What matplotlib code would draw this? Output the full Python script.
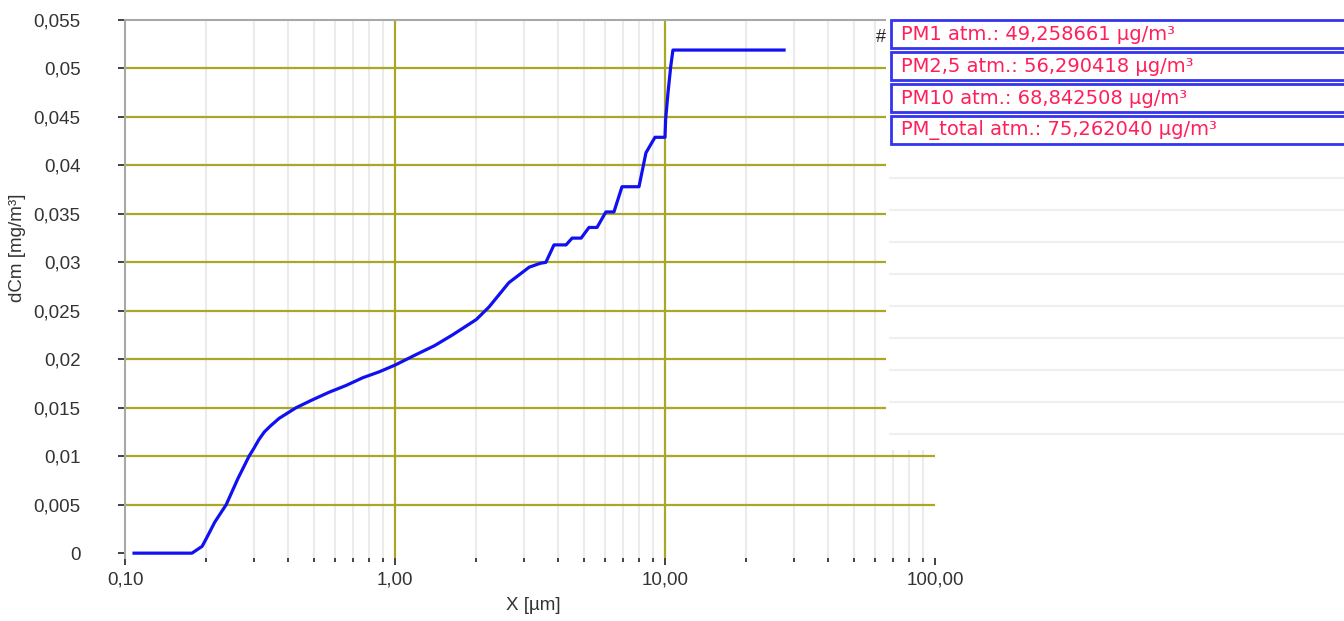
import numpy as np
import matplotlib
matplotlib.use("Agg")
import matplotlib.pyplot as plt
from matplotlib.patches import Rectangle

# particle size [um] and cumulative mass concentration dCm [mg/m3]
size_um = [0.108, 0.177, 0.193, 0.200, 0.215, 0.237, 0.262, 0.288, 0.300, 0.313,
           0.328, 0.345, 0.372, 0.43, 0.493, 0.57, 0.659, 0.76, 0.873, 1.0,
           1.2, 1.4, 1.63, 2.0, 2.23, 2.64, 3.14, 3.45, 3.62, 3.88,
           4.3, 4.53, 4.89, 5.23, 5.6, 6.04, 6.47, 6.93, 8.01, 8.5,
           9.18, 10.0, 10.05, 10.26, 10.5, 10.7, 27.6]
dcm = [0.0, 0.0, 0.0007, 0.0015, 0.0032, 0.005, 0.0077, 0.010, 0.0108, 0.0117,
       0.0125, 0.0131, 0.0139, 0.015, 0.0158, 0.0166, 0.0173, 0.0181, 0.0187, 0.0194,
       0.0205, 0.0214, 0.0225, 0.0241, 0.0254, 0.0279, 0.0295, 0.0299, 0.0300, 0.0318,
       0.0318, 0.0325, 0.0325, 0.0336, 0.0336, 0.0352, 0.0352, 0.0378, 0.0378, 0.0413,
       0.0429, 0.0429, 0.0447, 0.0475, 0.0502, 0.0519, 0.0519]

y_ticks = [0, 0.005, 0.01, 0.015, 0.02, 0.025, 0.03, 0.035, 0.04, 0.045, 0.05, 0.055]
y_labels = ["0", "0,005", "0,01", "0,015", "0,02", "0,025", "0,03", "0,035",
            "0,04", "0,045", "0,05", "0,055"]
x_ticks = [0.1, 1, 10, 100]
x_labels = ["0,10", "1,00", "10,00", "100,00"]

pm_names = ["PM1 atm.", "PM2,5 atm.", "PM10 atm.", "PM_total atm."]
pm_values = ["49,258661", "56,290418", "68,842508", "75,262040"]

W, H = 1344, 621
OLIVE = "#aaa626"
MINOR = "#ebebeb"
TXT = "#333333"
plt.rcParams["font.family"] = ["Liberation Sans", "DejaVu Sans"]

fig = plt.figure(figsize=(W / 100, H / 100), dpi=100)
# axes in pixel terms: x 125..935, y 20..558 (from top)
ax = fig.add_axes([125 / W, (H - 558) / H, 810 / W, 538 / H])
ax.set_xscale("log")
ax.set_xlim(0.1, 100)
ax.set_ylim(-0.0005, 0.055)

# grid
minor_x = [m * d for d in (0.1, 1, 10) for m in range(2, 10)]
for v in minor_x:
    ax.axvline(v, color=MINOR, lw=1.5, zorder=1)
for v in x_ticks[1:-1]:
    ax.axvline(v, color=OLIVE, lw=1.6, zorder=2)
for v in y_ticks[1:-1]:
    ax.axhline(v, color=OLIVE, lw=1.6, zorder=2)

ax.plot(size_um, dcm, color="#1010f0", lw=2.3, zorder=3)

for s in ["bottom", "right"]:
    ax.spines[s].set_visible(False)
for s in ["left", "top"]:
    ax.spines[s].set_color("#a8a8a8")
    ax.spines[s].set_linewidth(1.5)

ax.set_yticks(y_ticks)
ax.set_yticklabels(y_labels)
ax.set_xticks(x_ticks)
ax.set_xticklabels(x_labels)
ax.set_xticks(minor_x, minor=True)
ax.tick_params(axis="y", length=5, width=1.2, color="#222222", pad=27,
               labelsize=13.5, labelcolor=TXT)
ax.tick_params(axis="x", which="major", length=5, width=1.2, color="#222222",
               pad=5, labelsize=13.5, labelcolor=TXT)
ax.tick_params(axis="x", which="minor", length=3, width=1.2, color="#222222")
for lbl in ax.get_yticklabels():
    lbl.set_horizontalalignment("right")

fig.text(533 / W, 1 - 605 / H, "X [µm]", ha="center", va="center",
         fontsize=13.5, color=TXT)
fig.text(18 / W, 1 - 248 / H, "dCm [mg/m³]", ha="center", va="center",
         rotation=90, fontsize=13.5, color=TXT)
ax.text(876 / W, 1 - 37 / H, "#", transform=fig.transFigure, fontsize=13,
        color="#222222", ha="left", va="center", clip_on=False)

# results panel on the right
panel = fig.add_axes([886 / W, (H - 450) / H, (W - 886) / W, 450 / H], zorder=5)
panel.set_xlim(886, W)
panel.set_ylim(450, 0)
panel.set_facecolor("white")
for s in panel.spines.values():
    s.set_visible(False)
panel.set_xticks([])
panel.set_yticks([])

row_h = 32
for i, (name, val) in enumerate(zip(pm_names, pm_values)):
    top = 20 + i * row_h
    panel.add_patch(Rectangle((891, top), 470, 28, facecolor="white",
                              edgecolor="#3333f0", lw=2, clip_on=True))
    panel.text(901, top + 14, f"{name}: {val} µg/m³", color="#ff1f5a",
               fontsize=14, family=["DejaVu Sans"], va="center", ha="left")
for k in range(9):
    yy = 20 + (len(pm_names) + 1) * row_h - 2 + k * row_h
    panel.plot([890, W], [yy, yy], color="#efefef", lw=1.5)

fig.savefig("out.png", dpi=100)
